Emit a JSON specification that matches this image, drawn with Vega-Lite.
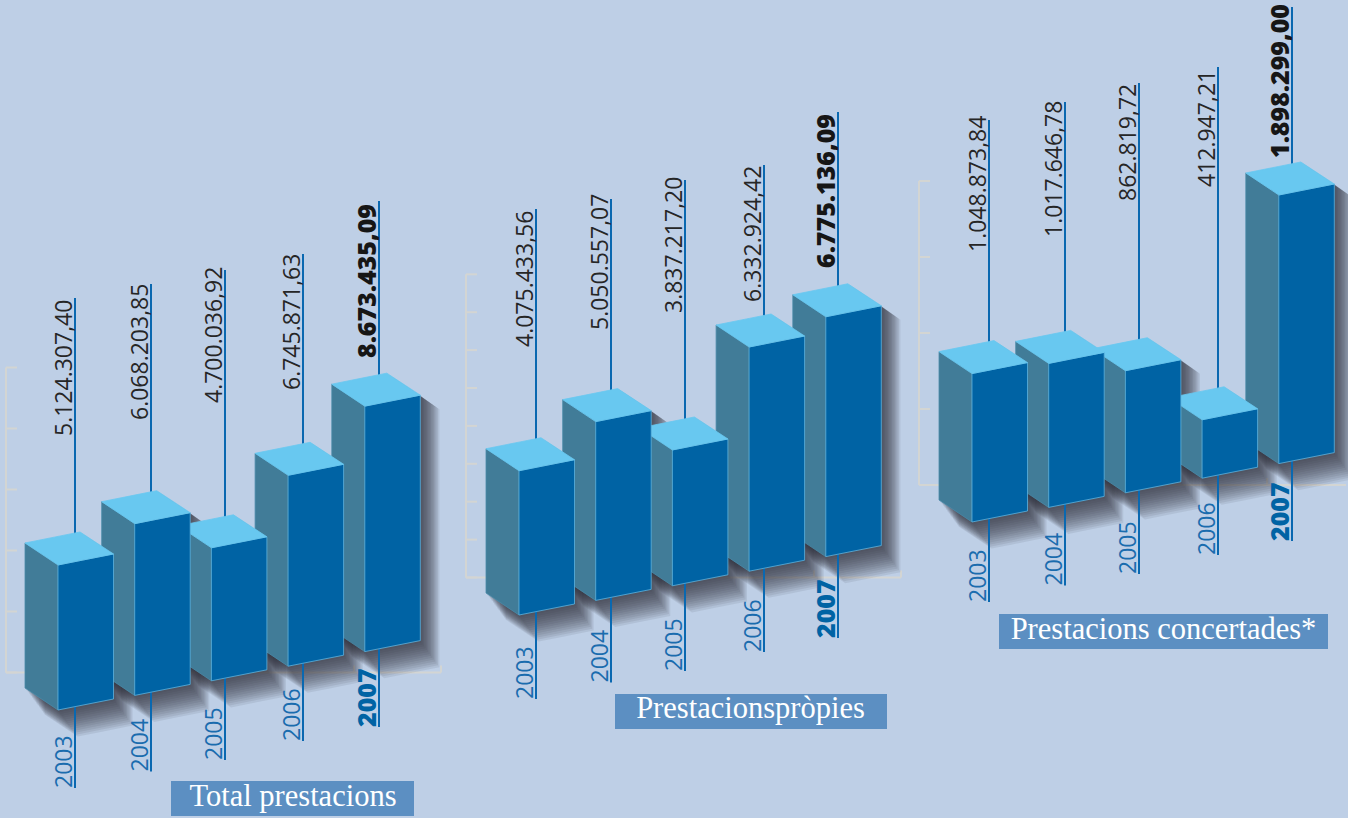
{"$schema":"https://vega.github.io/schema/vega-lite/v6.json","width":1348,"height":818,"autosize":{"type":"fit","contains":"padding"},"padding":0,"background":"#BECFE6","config":{"view":{"stroke":null}},
"datasets":{"bars":[
{"chart":"Total prestacions","year":2007,"value":8673435.09,"label":"8.673.435,09"},
{"chart":"Total prestacions","year":2006,"value":6745871.63,"label":"6.745.871,63"},
{"chart":"Total prestacions","year":2005,"value":4700036.92,"label":"4.700.036,92"},
{"chart":"Total prestacions","year":2004,"value":6068203.85,"label":"6.068.203,85"},
{"chart":"Total prestacions","year":2003,"value":5124307.40,"label":"5.124.307,40"},
{"chart":"Prestacionspròpies","year":2007,"value":6775136.09,"label":"6.775.136,09"},
{"chart":"Prestacionspròpies","year":2006,"value":6332924.42,"label":"6.332.924,42"},
{"chart":"Prestacionspròpies","year":2005,"value":3837217.20,"label":"3.837.217,20"},
{"chart":"Prestacionspròpies","year":2004,"value":5050557.07,"label":"5.050.557,07"},
{"chart":"Prestacionspròpies","year":2003,"value":4075433.56,"label":"4.075.433,56"},
{"chart":"Prestacions concertades*","year":2007,"value":1898299.00,"label":"1.898.299,00"},
{"chart":"Prestacions concertades*","year":2006,"value":412947.21,"label":"412.947,21"},
{"chart":"Prestacions concertades*","year":2005,"value":862819.72,"label":"862.819,72"},
{"chart":"Prestacions concertades*","year":2004,"value":1017646.78,"label":"1.017.646,78"},
{"chart":"Prestacions concertades*","year":2003,"value":1048873.84,"label":"1.048.873,84"}],
"titles":[{"chart":"Total prestacions"},{"chart":"Prestacionspròpies"},{"chart":"Prestacions concertades*"}],
"axes":[
{"c":0,"part":"yaxis","level":0},{"c":0,"part":"xaxis","level":0},
{"c":0,"part":"ytick","level":0},{"c":0,"part":"ytick","level":1},{"c":0,"part":"ytick","level":2},{"c":0,"part":"ytick","level":3},{"c":0,"part":"ytick","level":4},{"c":0,"part":"ytick","level":5},
{"c":0,"part":"xtick","level":0},{"c":0,"part":"xtick","level":1},{"c":0,"part":"xtick","level":2},{"c":0,"part":"xtick","level":3},{"c":0,"part":"xtick","level":4},{"c":0,"part":"xtick","level":5},
{"c":1,"part":"yaxis","level":0},{"c":1,"part":"xaxis","level":0},
{"c":1,"part":"ytick","level":0},{"c":1,"part":"ytick","level":1},{"c":1,"part":"ytick","level":2},{"c":1,"part":"ytick","level":3},{"c":1,"part":"ytick","level":4},{"c":1,"part":"ytick","level":5},{"c":1,"part":"ytick","level":6},{"c":1,"part":"ytick","level":7},{"c":1,"part":"ytick","level":8},
{"c":1,"part":"xtick","level":0},{"c":1,"part":"xtick","level":1},{"c":1,"part":"xtick","level":2},{"c":1,"part":"xtick","level":3},{"c":1,"part":"xtick","level":4},{"c":1,"part":"xtick","level":5},
{"c":2,"part":"yaxis","level":0},{"c":2,"part":"xaxis","level":0},
{"c":2,"part":"ytick","level":0},{"c":2,"part":"ytick","level":1},{"c":2,"part":"ytick","level":2},{"c":2,"part":"ytick","level":3},{"c":2,"part":"ytick","level":4},
{"c":2,"part":"xtick","level":0},{"c":2,"part":"xtick","level":1},{"c":2,"part":"xtick","level":2},{"c":2,"part":"xtick","level":3},{"c":2,"part":"xtick","level":4}
]},
"data":{"name":"bars"},
"transform":[
{"calculate":"indexof(['Total prestacions','Prestacionspròpies','Prestacions concertades*'],datum.chart)","as":"c"},
{"calculate":"datum.year-2003","as":"i"},
{"calculate":"[58,519,972][datum.c]+76.7*datum.i","as":"x0"},
{"calculate":"[710,615,522][datum.c]-14.6*datum.i","as":"yB"},
{"calculate":"datum.yB-datum.value*[28.3,35.4,141.5][datum.c]/1000000","as":"yT"},
{"calculate":"[[75,151,225,303,379],[536,611,685,764,838],[989,1065,1139,1218,1292]][datum.c][datum.i]","as":"lx"},
{"calculate":"[[298,284,270,254,201],[209,199,180,165,112],[120,102,83,67,7]][datum.c][datum.i]","as":"lt"},
{"calculate":"[788,699,602][datum.c]-[0,16.5,28,47,61][datum.i]","as":"lb"},
{"calculate":"[[436,420,403,390,358],[347,330,313,302,268],[252,237,201,187,158]][datum.c][datum.i]","as":"vb"}
],
"encoding":{"x":{"field":"x","type":"quantitative","scale":{"domain":[0,1348],"nice":false,"zero":false},"axis":null},"y":{"field":"y","type":"quantitative","scale":{"domain":[818,0],"nice":false,"zero":false},"axis":null}},
"layer":[
{"data":{"name":"axes"},"transform":[
{"calculate":"[6,466,919][datum.c]","as":"ax"},
{"calculate":"[672.5,577.5,485][datum.c]","as":"ay"},
{"calculate":"[61,37.9,76][datum.c]","as":"ys"},
{"calculate":"[5,8,4][datum.c]","as":"n"},
{"calculate":"datum.part=='xtick'?min(1346,datum.ax+datum.level*87):datum.ax","as":"x"},
{"calculate":"datum.part=='xaxis'?min(1346,datum.ax+5*87):datum.part=='ytick'?datum.ax+11:datum.x","as":"x2"},
{"calculate":"datum.part=='ytick'?datum.ay-datum.level*datum.ys:datum.part=='yaxis'?datum.ay-datum.n*datum.ys:datum.ay","as":"y"},
{"calculate":"datum.part=='xtick'?datum.ay-7:datum.part=='ytick'?datum.y:datum.ay","as":"y2"}
],
"mark":{"type":"rule","stroke":"#D3D5D3","strokeWidth":2},"encoding":{"x2":{"field":"x2"},"y2":{"field":"y2"}}},
{"transform":[
{"calculate":"[1,2,3,4,5,6,7,8,9,10,11,12,13,14]","as":"o"},{"flatten":["o"]},
{"calculate":"[0,1,2,3]","as":"k"},{"flatten":["k"]},
{"calculate":"datum.x0+[-33,0,22,55][datum.k]+datum.o*1.4","as":"x"},
{"calculate":"datum.yT+[-22,-28.6,-33,-11][datum.k]+datum.o*1","as":"y"},
{"calculate":"datum.yB+[-22,0,-4.4,-11][datum.k]+datum.o*1.9","as":"y2"},
{"calculate":"datum.chart+datum.year+'-'+datum.o","as":"key"}
],
"mark":{"type":"area","color":"#2a2a36","opacity":0.09,"interpolate":"linear","clip":true},"encoding":{"y2":{"field":"y2"},"detail":{"field":"key"}}},
{"transform":[{"calculate":"datum.lx","as":"x"},{"calculate":"datum.lt","as":"y"},{"calculate":"datum.lb","as":"y2"}],
"mark":{"type":"rule","stroke":"#0A68B0","strokeWidth":2},"encoding":{"y2":{"field":"y2"}}},
{"transform":[{"filter":"datum.year<2007"},{"calculate":"datum.lx-3","as":"x"},{"calculate":"datum.vb","as":"y"}],
"mark":{"type":"text","font":"Open Sans","fontSize":23,"angle":270,"align":"left","baseline":"alphabetic","color":"#262626"},"encoding":{"text":{"field":"label"}}},
{"transform":[{"filter":"datum.year==2007"},{"calculate":"datum.lx-3","as":"x"},{"calculate":"datum.vb","as":"y"}],
"mark":{"type":"text","font":"Open Sans","fontSize":25,"fontWeight":800,"angle":270,"align":"left","baseline":"alphabetic","color":"#161616"},"encoding":{"text":{"field":"label"}}},
{"transform":[{"filter":"datum.year<2007"},{"calculate":"datum.lx-3","as":"x"},{"calculate":"datum.lb","as":"y"}],
"mark":{"type":"text","font":"Open Sans","fontSize":23,"angle":270,"align":"left","baseline":"alphabetic","color":"#1A6CAE"},"encoding":{"text":{"field":"year","type":"nominal"}}},
{"transform":[{"filter":"datum.year==2007"},{"calculate":"datum.lx-3","as":"x"},{"calculate":"datum.lb","as":"y"}],
"mark":{"type":"text","font":"Open Sans","fontSize":25,"fontWeight":800,"angle":270,"align":"left","baseline":"alphabetic","color":"#0063A4"},"encoding":{"text":{"field":"year","type":"nominal"}}},
{"transform":[
{"calculate":"['side','side','front','front','top','top','top','top']","as":"face"},
{"calculate":"[0,1,0,1,0,1,2,3]","as":"k"},
{"flatten":["face","k"]},
{"calculate":"datum.x0+(datum.face=='side'?[-33,0][datum.k]:datum.face=='front'?[0,55.5][datum.k]:[-33,0,22,55.5][datum.k])","as":"x"},
{"calculate":"datum.face=='side'?datum.yT+[-22,0][datum.k]:datum.face=='front'?datum.yT+[0,-11][datum.k]:datum.yT+[-22,-28.6,-33,-11][datum.k]","as":"y"},
{"calculate":"datum.face=='side'?datum.yB+[-22,0][datum.k]:datum.face=='front'?datum.yB+[0,-11][datum.k]:datum.yT+[-22,0,-4.4,-11][datum.k]","as":"y2"},
{"calculate":"datum.chart+datum.year+datum.face","as":"key"}
],
"mark":{"type":"area","interpolate":"linear","strokeWidth":0.8},
"encoding":{"y2":{"field":"y2"},"detail":{"field":"key"},
"fill":{"field":"face","type":"nominal","legend":null,"scale":{"domain":["side","front","top"],"range":["#417C98","#0063A4","#68C8F0"]}},
"stroke":{"field":"face","type":"nominal","legend":null,"scale":{"domain":["side","front","top"],"range":["#4A8AA8","#5DB2DE","#68C8F0"]}}}},
{"data":{"name":"titles"},"transform":[
{"calculate":"indexof(['Total prestacions','Prestacionspròpies','Prestacions concertades*'],datum.chart)","as":"c"},
{"calculate":"[171,615,999][datum.c]","as":"x"},{"calculate":"[414,887,1328][datum.c]","as":"x2"},
{"calculate":"[781,694,614][datum.c]","as":"y"},{"calculate":"[816,729,649][datum.c]","as":"y2"}],
"mark":{"type":"rect","fill":"#5C8FC2"},"encoding":{"x2":{"field":"x2"},"y2":{"field":"y2"}}},
{"data":{"name":"titles"},"transform":[
{"calculate":"indexof(['Total prestacions','Prestacionspròpies','Prestacions concertades*'],datum.chart)","as":"c"},
{"calculate":"[293,750.5,1163.5][datum.c]","as":"x"},
{"calculate":"[806,718,639][datum.c]","as":"y"}],
"mark":{"type":"text","font":"Liberation Serif","fontSize":30.5,"align":"center","baseline":"alphabetic","color":"#FFFFFF"},"encoding":{"text":{"field":"chart"}}}
]}
